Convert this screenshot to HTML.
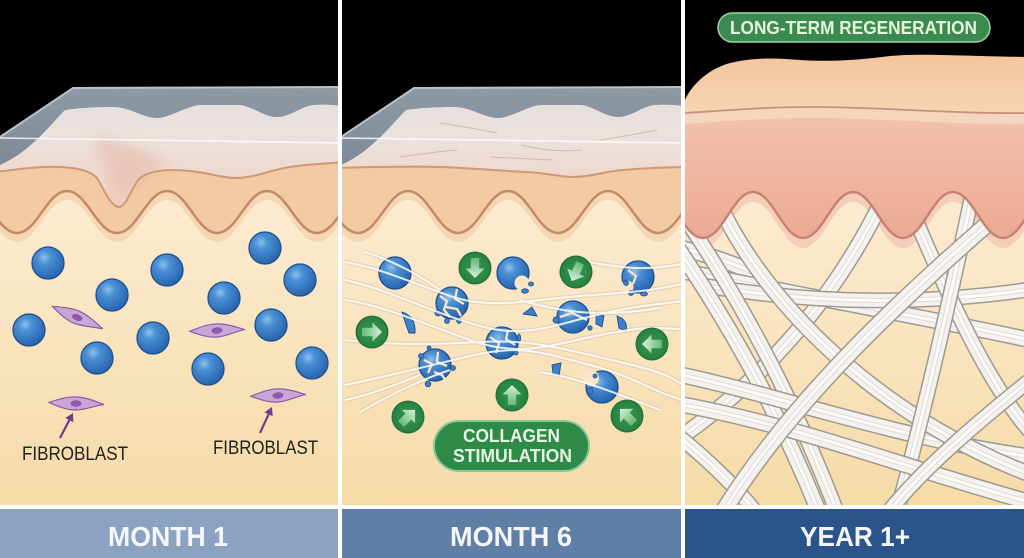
<!DOCTYPE html>
<html><head><meta charset="utf-8">
<style>
html,body{margin:0;padding:0;background:#fff;}
svg{display:block;}
text{font-family:"Liberation Sans", Arial, sans-serif;}
</style></head>
<body>
<svg width="1024" height="558" viewBox="0 0 1024 558" xmlns="http://www.w3.org/2000/svg" xmlns:xlink="http://www.w3.org/1999/xlink">
<defs>
<linearGradient id="cream" x1="0" y1="180" x2="0" y2="505" gradientUnits="userSpaceOnUse">
 <stop offset="0" stop-color="#fcecd4"/>
 <stop offset="1" stop-color="#f6dba7"/>
</linearGradient>
<linearGradient id="pinkL" x1="0" y1="90" x2="0" y2="208" gradientUnits="userSpaceOnUse">
 <stop offset="0" stop-color="#e4e0de"/>
 <stop offset="0.45" stop-color="#ece2dd"/>
 <stop offset="1" stop-color="#efcdbb"/>
</linearGradient>
<linearGradient id="gray" x1="0" y1="86" x2="0" y2="170" gradientUnits="userSpaceOnUse">
 <stop offset="0" stop-color="#8e9aa6"/>
 <stop offset="1" stop-color="#7d8995"/>
</linearGradient>
<radialGradient id="sph" cx="0.38" cy="0.33" r="0.72">
 <stop offset="0" stop-color="#8cc0ec"/>
 <stop offset="0.3" stop-color="#4a8fd4"/>
 <stop offset="1" stop-color="#2461ab"/>
</radialGradient>
<radialGradient id="grn" cx="0.5" cy="0.5" r="0.5">
 <stop offset="0" stop-color="#35964f"/>
 <stop offset="0.85" stop-color="#2a8443"/>
 <stop offset="1" stop-color="#1f6e36"/>
</radialGradient>
<linearGradient id="arw" x1="0" y1="-10" x2="0" y2="11" gradientUnits="userSpaceOnUse">
 <stop offset="0" stop-color="#d8f3d8"/>
 <stop offset="1" stop-color="#5fb372"/>
</linearGradient>
<linearGradient id="peach3" x1="0" y1="55" x2="0" y2="113" gradientUnits="userSpaceOnUse">
 <stop offset="0" stop-color="#f3c59d"/>
 <stop offset="1" stop-color="#f7d5b3"/>
</linearGradient>
<linearGradient id="pink3" x1="0" y1="118" x2="0" y2="240" gradientUnits="userSpaceOnUse">
 <stop offset="0" stop-color="#f2c1ac"/>
 <stop offset="1" stop-color="#eba994"/>
</linearGradient>
<filter id="blur6"><feGaussianBlur stdDeviation="6"/></filter>
<clipPath id="c1"><rect x="0" y="0" width="338" height="505"/></clipPath>
<clipPath id="c2"><rect x="342" y="0" width="339" height="505"/></clipPath>
<clipPath id="c3"><rect x="685" y="0" width="339" height="505"/></clipPath>

<path id="wave" d="M -33 191 C -13 191 -3 233 17 233 S 47 191 67 191 S 97 233 117 233 S 147 191 167 191 S 197 233 217 233 S 247 191 267 191 S 297 233 317 233 S 347 191 367 191"/>
<path id="waveC" d="M -33 191 C -13 191 -3 233 17 233 S 47 191 67 191 S 97 233 117 233 S 147 191 167 191 S 197 233 217 233 S 247 191 267 191 S 297 233 317 233 S 347 191 367 191 L 367 150 L -33 150 Z"/>
<path id="slab" d="M -5 137 L 0 137 L 73 88 L 350 87 L 350 107 C 335 105, 325 104, 313 105 C 300 107, 290 117, 277 117 C 264 117, 252 106, 240 105 L 200 105 C 186 106, 170 118, 157 118 C 143 118, 130 107, 113 107 C 95 107, 78 108, 65 110 C 50 125, 30 152, 0 165 L -5 165 Z"/>

<path id="wave3" d="M 653 192 C 673 192 683 238 703 238 S 733 192 753 192 S 783 238 803 238 S 833 192 853 192 S 883 238 903 238 S 933 192 953 192 S 983 238 1003 238 S 1033 192 1053 192"/>
<path id="wave3C" d="M 653 192 C 673 192 683 238 703 238 S 733 192 753 192 S 783 238 803 238 S 833 192 853 192 S 883 238 903 238 S 933 192 953 192 S 983 238 1003 238 S 1033 192 1053 192 L 1053 118 L 653 118 Z"/>

<g id="ball"><circle r="16" fill="url(#sph)" stroke="#1d4f8e" stroke-width="1.3"/></g>
<g id="fib"><path d="M -27 -2 C -15 -6, -6 -8, 2 -7 C 12 -6, 20 -2, 28 1 C 18 2, 10 6, 0 6 C -10 6, -18 2, -27 -2 Z" fill="#cba4d8" stroke="#8b5ca6" stroke-width="1.2"/><ellipse cx="0" cy="-0.5" rx="5.5" ry="3.2" fill="#8e5aa8"/></g>
<g id="gc"><circle r="16.5" fill="url(#grn)"/><path d="M0 -10 L9.5 -0.5 L4.2 -0.5 L4.2 10 L-4.2 10 L-4.2 -0.5 L-9.5 -0.5 Z" fill="url(#arw)"/></g>

<g id="strands">
 <path d="M 345 262 C 380 268, 410 282, 450 296 S 530 300, 580 296 S 650 292, 690 282"/>
 <path d="M 345 280 C 390 290, 430 312, 480 326 S 560 322, 610 312 S 660 305, 690 300"/>
 <path d="M 345 300 C 380 305, 420 322, 470 340 S 550 345, 600 335 S 660 328, 690 330"/>
 <path d="M 345 340 C 390 345, 430 345, 480 342 S 560 348, 620 362 S 670 380, 690 388"/>
 <path d="M 345 385 C 380 378, 420 368, 470 356 S 540 352, 590 365 S 650 392, 690 402"/>
 <path d="M 360 412 C 390 395, 420 380, 450 370"/>
 <path d="M 345 400 C 370 395, 395 385, 420 375"/>
 <path d="M 365 252 C 390 260, 415 272, 440 290"/>
 <path d="M 590 262 C 620 268, 650 272, 690 262"/>
 <path d="M 520 300 C 560 312, 600 318, 660 308"/>
 <path d="M 540 372 C 580 378, 620 395, 660 410"/>
</g>

<path id="f1" d="M 655 215 C 715 300, 775 400, 822 520"/>
<path id="f1b" d="M 676 205 C 735 290, 793 395, 840 520"/>
<path id="f2" d="M 715 195 C 760 300, 880 420, 1040 478"/>
<path id="f3" d="M 668 268 C 780 292, 900 312, 1040 342"/>
<path id="f4" d="M 700 285 C 820 305, 930 305, 1040 288"/>
<path id="f5" d="M 1015 200 C 905 295, 790 400, 718 520"/>
<path id="f6" d="M 885 195 C 835 300, 760 385, 665 448"/>
<path id="f7" d="M 668 372 C 780 395, 900 440, 1040 458"/>
<path id="f8" d="M 668 402 C 800 425, 910 470, 1040 505"/>
<path id="f9" d="M 972 195 C 950 300, 922 420, 895 520"/>
<path id="f10" d="M 905 195 C 950 300, 992 395, 1040 442"/>
<path id="f11" d="M 1040 372 C 980 420, 920 470, 882 520"/>
<path id="f12" d="M 668 428 C 700 452, 738 488, 762 520"/>
<path id="f13" d="M 668 245 C 700 252, 730 262, 760 275"/>
</defs>

<rect x="0" y="0" width="1024" height="558" fill="#ffffff"/>

<!-- ================= PANEL 1 ================= -->
<g clip-path="url(#c1)">
 <rect x="0" y="0" width="338" height="505" fill="#000"/>
 <rect x="0" y="150" width="338" height="355" fill="url(#cream)"/>
 <use xlink:href="#waveC" transform="translate(0 9)" fill="#f5d7b3"/>
 <use xlink:href="#waveC" fill="#f2caa3"/>
 <use xlink:href="#wave" fill="none" stroke="#c58a65" stroke-width="2.5"/>
 <path d="M 0 137 L 73 88 L 350 87 L 350 162 C 330 163, 310 164, 290 167 C 270 170, 255 178, 235 178 C 222 178, 210 173, 190 171 C 170 169, 150 170, 140 178 C 132 185, 127 208, 118 207 C 110 205, 103 188, 97 178 C 90 171, 80 168, 60 167 C 40 166, 20 169, -5 172 L -5 137 Z" fill="url(#pinkL)"/>
 <path d="M 92 135 C 120 140, 150 150, 170 165 C 150 172, 135 185, 120 200 C 110 180, 100 160, 92 135 Z" fill="#e4b8a6" opacity="0.55" filter="url(#blur6)"/>
 <path d="M -5 172 C 20 169, 40 166, 60 167 C 80 168, 90 171, 97 178 C 103 188, 110 205, 118 207 C 127 208, 132 185, 140 178 C 150 170, 170 169, 190 171 C 210 173, 222 178, 235 178 C 255 178, 270 170, 290 167 C 310 164, 330 163, 350 162" fill="none" stroke="#cf9876" stroke-width="2"/>
 <use xlink:href="#slab" fill="url(#gray)"/>
 <path d="M 0 137 L 73 88 L 350 87" fill="none" stroke="#b9c3cc" stroke-width="2"/>
 <path d="M 0 138 L 345 143" stroke="#ffffff" stroke-width="1.6" opacity="0.8"/>

 <use xlink:href="#ball" x="48" y="263"/>
 <use xlink:href="#ball" x="112" y="295"/>
 <use xlink:href="#ball" x="167" y="270"/>
 <use xlink:href="#ball" x="265" y="248"/>
 <use xlink:href="#ball" x="300" y="280"/>
 <use xlink:href="#ball" x="224" y="298"/>
 <use xlink:href="#ball" x="29" y="330"/>
 <use xlink:href="#ball" x="153" y="338"/>
 <use xlink:href="#ball" x="271" y="325"/>
 <use xlink:href="#ball" x="97" y="358"/>
 <use xlink:href="#ball" x="208" y="369"/>
 <use xlink:href="#ball" x="312" y="363"/>

 <use xlink:href="#fib" transform="translate(77 318) rotate(21)"/>
 <use xlink:href="#fib" transform="translate(217 331) rotate(-5)"/>
 <use xlink:href="#fib" transform="translate(76 404) rotate(-1)"/>
 <use xlink:href="#fib" transform="translate(278 396) rotate(-5)"/>

 <line x1="60" y1="438" x2="69.3" y2="420.1" stroke="#6e3d8f" stroke-width="2.2"/>
 <polygon points="73,413 73.3,422.2 65.3,418" fill="#6e3d8f"/>
 <line x1="260" y1="433" x2="268.6" y2="414.3" stroke="#6e3d8f" stroke-width="2.2"/>
 <polygon points="272,407 272.7,416.2 264.5,412.4" fill="#6e3d8f"/>

 <text x="22" y="460" font-size="19" fill="#222" textLength="106" lengthAdjust="spacingAndGlyphs">FIBROBLAST</text>
 <text x="213" y="454" font-size="19" fill="#222" textLength="105" lengthAdjust="spacingAndGlyphs">FIBROBLAST</text>
</g>

<!-- ================= PANEL 2 ================= -->
<g clip-path="url(#c2)">
 <rect x="342" y="0" width="339" height="505" fill="#000"/>
 <rect x="342" y="150" width="339" height="355" fill="url(#cream)"/>
 <g transform="translate(341 0)">
  <use xlink:href="#waveC" transform="translate(0 9)" fill="#f5d7b3"/>
  <use xlink:href="#waveC" fill="#f2caa3"/>
  <use xlink:href="#wave" fill="none" stroke="#c58a65" stroke-width="2.5"/>
  <path d="M 0 137 L 73 88 L 350 87 L 350 167 C 325 167, 305 168, 282 170 C 265 171, 250 177, 232 177 C 220 177, 205 173, 186 172 C 160 171, 130 168, 99 167 C 70 166, 30 167, -5 168 L -5 137 Z" fill="url(#pinkL)"/>
  <g fill="none" stroke="#cfa898" stroke-width="1" opacity="0.7">
   <path d="M 99 123 C 120 126, 140 130, 156 133"/>
   <path d="M 149 157 C 170 158, 195 159, 212 160"/>
   <path d="M 259 140 C 280 137, 300 133, 316 130"/>
   <path d="M 59 157 C 80 154, 100 151, 116 150"/>
   <path d="M 180 145 C 200 150, 220 152, 240 150"/>
  </g>
  <path d="M -5 168 C 30 167, 70 166, 99 167 C 130 168, 160 171, 186 172 C 205 173, 220 177, 232 177 C 250 177, 265 171, 282 170 C 305 168, 325 167, 350 167" fill="none" stroke="#cf9876" stroke-width="2"/>
  <use xlink:href="#slab" fill="url(#gray)"/>
  <path d="M 0 137 L 73 88 L 350 87" fill="none" stroke="#b9c3cc" stroke-width="2"/>
  <path d="M 0 138 L 345 143" stroke="#ffffff" stroke-width="1.6" opacity="0.8"/>
 </g>

 <use xlink:href="#strands" fill="none" stroke="#d6c3a6" stroke-width="4.5" opacity="0.5"/>

 <use xlink:href="#ball" x="395" y="273"/>
 <use xlink:href="#ball" x="513" y="273"/>
 <circle cx="522" cy="283" r="7.5" fill="#fae6c6"/>
 <ellipse cx="525" cy="291" rx="3.5" ry="2.2" fill="#3c80c9" stroke="#1d4f8e" stroke-width="0.8"/>
 <ellipse cx="531" cy="284" rx="2.5" ry="2" fill="#3c80c9" stroke="#1d4f8e" stroke-width="0.8"/>

 <use xlink:href="#ball" x="452" y="303"/>
 <g fill="none" stroke="#fae6c6" stroke-width="2.3" stroke-linejoin="round">
  <path d="M 440 296 L 447 301 L 444 310 L 450 317"/>
  <path d="M 457 289 L 455 299 L 464 304"/>
  <path d="M 446 307 L 457 309 L 461 316"/>
 </g>
 <circle cx="438" cy="313" r="3" fill="#3c80c9" stroke="#1d4f8e" stroke-width="0.8"/>
 <circle cx="447" cy="321" r="2.5" fill="#3c80c9" stroke="#1d4f8e" stroke-width="0.8"/>
 <circle cx="459" cy="321" r="2.3" fill="#3c80c9" stroke="#1d4f8e" stroke-width="0.8"/>

 <use xlink:href="#ball" x="638" y="277"/>
 <circle cx="627" cy="287" r="6.5" fill="#fae6c6"/>
 <path d="M 628 270 L 636 276 L 633 284" fill="none" stroke="#fae6c6" stroke-width="2.2"/>
 <circle cx="626" cy="283" r="2.5" fill="#3c80c9" stroke="#1d4f8e" stroke-width="0.8"/>
 <circle cx="631" cy="293" r="2.5" fill="#3c80c9" stroke="#1d4f8e" stroke-width="0.8"/>
 <ellipse cx="644" cy="294" rx="3.5" ry="2" fill="#3c80c9" stroke="#1d4f8e" stroke-width="0.8"/>

 <use xlink:href="#ball" x="573" y="317"/>
 <path d="M 560 317 L 572 313 L 587 320" fill="none" stroke="#fae6c6" stroke-width="2.3"/>
 <circle cx="556" cy="320" r="3" fill="#3c80c9" stroke="#1d4f8e" stroke-width="0.8"/>
 <circle cx="590" cy="328" r="2.2" fill="#3c80c9" stroke="#1d4f8e" stroke-width="0.8"/>
 <path d="M 596 312 L 604 316 L 602 327 L 596 324 Z" fill="#3c80c9" stroke="#1d4f8e" stroke-width="0.8"/>

 <use xlink:href="#ball" x="502" y="343"/>
 <g fill="none" stroke="#fae6c6" stroke-width="2.2" stroke-linejoin="round">
  <path d="M 490 337 L 499 343 L 496 353"/>
  <path d="M 508 330 L 506 339 L 515 345"/>
 </g>
 <circle cx="516" cy="353" r="2" fill="#3c80c9" stroke="#1d4f8e" stroke-width="0.8"/>
 <ellipse cx="519" cy="338" rx="1.6" ry="4" fill="#3c80c9" stroke="#1d4f8e" stroke-width="0.8"/>

 <use xlink:href="#ball" x="435" y="365"/>
 <g fill="none" stroke="#fae6c6" stroke-width="2.3" stroke-linejoin="round">
  <path d="M 424 360 L 432 364 L 428 373"/>
  <path d="M 438 352 L 437 362 L 447 366"/>
  <path d="M 434 372 L 442 375 L 446 381"/>
 </g>
 <circle cx="421" cy="356" r="2.5" fill="#3c80c9" stroke="#1d4f8e" stroke-width="0.8"/>
 <circle cx="429" cy="348" r="2" fill="#3c80c9" stroke="#1d4f8e" stroke-width="0.8"/>
 <circle cx="453" cy="368" r="2.5" fill="#3c80c9" stroke="#1d4f8e" stroke-width="0.8"/>
 <circle cx="428" cy="384" r="2.8" fill="#3c80c9" stroke="#1d4f8e" stroke-width="0.8"/>

 <use xlink:href="#ball" x="602" y="387"/>
 <circle cx="591" cy="378" r="8" fill="#fae6c6"/>
 <circle cx="590" cy="391" r="3" fill="#3c80c9" stroke="#1d4f8e" stroke-width="0.8"/>
 <circle cx="595" cy="376" r="2" fill="#3c80c9" stroke="#1d4f8e" stroke-width="0.8"/>

 <path d="M 402 312 C 410 314, 416 321, 415 333 L 409 333 C 406 325, 404 319, 402 312 Z" fill="#3c80c9" stroke="#1d4f8e" stroke-width="0.9"/>
 <path d="M 523 314 L 532 307 L 537 316 Z" fill="#3c80c9" stroke="#1d4f8e" stroke-width="0.9"/>
 <path d="M 552 365 L 561 363 L 559 376 L 553 374 Z" fill="#3c80c9" stroke="#1d4f8e" stroke-width="0.9"/>
 <path d="M 617 316 C 624 318, 628 324, 626 331 L 619 328 Z" fill="#3c80c9" stroke="#1d4f8e" stroke-width="0.9"/>

 <use xlink:href="#strands" fill="none" stroke="#ffffff" stroke-width="2" opacity="0.85"/>

 <use xlink:href="#gc" transform="translate(475 268) rotate(180)"/>
 <use xlink:href="#gc" transform="translate(576 272) rotate(205)"/>
 <use xlink:href="#gc" transform="translate(372 332) rotate(90)"/>
 <use xlink:href="#gc" transform="translate(652 344) rotate(270)"/>
 <use xlink:href="#gc" transform="translate(512 395)"/>
 <use xlink:href="#gc" transform="translate(408 417) rotate(45)"/>
 <use xlink:href="#gc" transform="translate(627 416) rotate(-45)"/>

 <rect x="434" y="421" width="155" height="50" rx="25" fill="#2e8a47" stroke="#8cc79a" stroke-width="2"/>
 <text x="463" y="442" font-size="18" font-weight="bold" fill="#e9f6e4" textLength="97" lengthAdjust="spacingAndGlyphs">COLLAGEN</text>
 <text x="453" y="462" font-size="18" font-weight="bold" fill="#e9f6e4" textLength="119" lengthAdjust="spacingAndGlyphs">STIMULATION</text>
</g>

<!-- ================= PANEL 3 ================= -->
<g clip-path="url(#c3)">
 <rect x="685" y="0" width="339" height="505" fill="#000"/>
 <rect x="685" y="150" width="339" height="355" fill="url(#cream)"/>
 <use xlink:href="#wave3C" transform="translate(0 10)" fill="#f5cdbd"/>

 <g fill="none" stroke-linecap="butt">
  <use xlink:href="#f13" stroke="#9f998f" stroke-width="17"/><use xlink:href="#f13" stroke="#f4f2ee" stroke-width="14"/><use xlink:href="#f13" stroke="#e0dbd4" stroke-width="5"/><use xlink:href="#f13" stroke="#fdfcfa" stroke-width="3"/>
  <use xlink:href="#f3" stroke="#9f998f" stroke-width="17"/><use xlink:href="#f3" stroke="#f4f2ee" stroke-width="14"/><use xlink:href="#f3" stroke="#e0dbd4" stroke-width="5"/><use xlink:href="#f3" stroke="#fdfcfa" stroke-width="3"/>
  <use xlink:href="#f6" stroke="#9f998f" stroke-width="17"/><use xlink:href="#f6" stroke="#f4f2ee" stroke-width="14"/><use xlink:href="#f6" stroke="#e0dbd4" stroke-width="5"/><use xlink:href="#f6" stroke="#fdfcfa" stroke-width="3"/>
  <use xlink:href="#f4" stroke="#9f998f" stroke-width="16"/><use xlink:href="#f4" stroke="#f4f2ee" stroke-width="13"/><use xlink:href="#f4" stroke="#e0dbd4" stroke-width="5"/><use xlink:href="#f4" stroke="#fdfcfa" stroke-width="3"/>
  <use xlink:href="#f1" stroke="#9f998f" stroke-width="17"/><use xlink:href="#f1" stroke="#f4f2ee" stroke-width="14"/><use xlink:href="#f1" stroke="#e0dbd4" stroke-width="5"/><use xlink:href="#f1" stroke="#fdfcfa" stroke-width="3"/>
  <use xlink:href="#f1b" stroke="#9f998f" stroke-width="16"/><use xlink:href="#f1b" stroke="#f4f2ee" stroke-width="13"/><use xlink:href="#f1b" stroke="#e0dbd4" stroke-width="5"/><use xlink:href="#f1b" stroke="#fdfcfa" stroke-width="3"/>
  <use xlink:href="#f7" stroke="#9f998f" stroke-width="17"/><use xlink:href="#f7" stroke="#f4f2ee" stroke-width="14"/><use xlink:href="#f7" stroke="#e0dbd4" stroke-width="5"/><use xlink:href="#f7" stroke="#fdfcfa" stroke-width="3"/>
  <use xlink:href="#f10" stroke="#9f998f" stroke-width="16"/><use xlink:href="#f10" stroke="#f4f2ee" stroke-width="13"/><use xlink:href="#f10" stroke="#e0dbd4" stroke-width="5"/><use xlink:href="#f10" stroke="#fdfcfa" stroke-width="3"/>
  <use xlink:href="#f2" stroke="#9f998f" stroke-width="17"/><use xlink:href="#f2" stroke="#f4f2ee" stroke-width="14"/><use xlink:href="#f2" stroke="#e0dbd4" stroke-width="5"/><use xlink:href="#f2" stroke="#fdfcfa" stroke-width="3"/>
  <use xlink:href="#f9" stroke="#9f998f" stroke-width="16"/><use xlink:href="#f9" stroke="#f4f2ee" stroke-width="13"/><use xlink:href="#f9" stroke="#e0dbd4" stroke-width="5"/><use xlink:href="#f9" stroke="#fdfcfa" stroke-width="3"/>
  <use xlink:href="#f8" stroke="#9f998f" stroke-width="17"/><use xlink:href="#f8" stroke="#f4f2ee" stroke-width="14"/><use xlink:href="#f8" stroke="#e0dbd4" stroke-width="5"/><use xlink:href="#f8" stroke="#fdfcfa" stroke-width="3"/>
  <use xlink:href="#f12" stroke="#9f998f" stroke-width="16"/><use xlink:href="#f12" stroke="#f4f2ee" stroke-width="13"/><use xlink:href="#f12" stroke="#e0dbd4" stroke-width="5"/><use xlink:href="#f12" stroke="#fdfcfa" stroke-width="3"/>
  <use xlink:href="#f5" stroke="#9f998f" stroke-width="18"/><use xlink:href="#f5" stroke="#f4f2ee" stroke-width="15"/><use xlink:href="#f5" stroke="#e0dbd4" stroke-width="5"/><use xlink:href="#f5" stroke="#fdfcfa" stroke-width="3"/>
  <use xlink:href="#f11" stroke="#9f998f" stroke-width="16"/><use xlink:href="#f11" stroke="#f4f2ee" stroke-width="13"/><use xlink:href="#f11" stroke="#e0dbd4" stroke-width="5"/><use xlink:href="#f11" stroke="#fdfcfa" stroke-width="3"/>
 </g>

 <use xlink:href="#wave3C" fill="url(#pink3)"/>
 <use xlink:href="#wave3" fill="none" stroke="#c6826f" stroke-width="2.5"/>
 <path d="M 685 113 C 720 111, 760 107, 813 107 C 880 107, 950 114, 1030 113 L 1030 124 C 950 125, 880 118, 813 118 C 760 118, 720 122, 685 124 Z" fill="#f6d5c0"/>
 <path d="M 685 113 L 685 100 C 690 88, 705 70, 730 63 C 755 57, 780 58, 800 60 C 830 62, 860 60, 890 56 C 920 53, 960 56, 1030 57 L 1030 113 C 950 114, 880 107, 813 107 C 760 107, 720 111, 685 113 Z" fill="url(#peach3)"/>
 <path d="M 685 113 C 720 111, 760 107, 813 107 C 880 107, 950 114, 1030 113" fill="none" stroke="#c89079" stroke-width="1.8"/>

 <rect x="718" y="13" width="272" height="29" rx="14.5" fill="#3b8a50" stroke="#a3d4a8" stroke-width="1.5"/>
 <text x="730" y="34" font-size="18" font-weight="bold" fill="#e6f6dc" textLength="247" lengthAdjust="spacingAndGlyphs">LONG-TERM REGENERATION</text>
</g>

<!-- ================= BOTTOM BARS ================= -->
<rect x="0" y="509" width="338" height="49" fill="#8ba3c1"/>
<rect x="342" y="509" width="339" height="49" fill="#5f7fa6"/>
<rect x="685" y="509" width="339" height="49" fill="#2b558a"/>
<text x="108" y="546" font-size="28" font-weight="bold" fill="#f4f6fa" textLength="120" lengthAdjust="spacingAndGlyphs">MONTH 1</text>
<text x="450" y="546" font-size="28" font-weight="bold" fill="#f4f6fa" textLength="122" lengthAdjust="spacingAndGlyphs">MONTH 6</text>
<text x="800" y="546" font-size="28" font-weight="bold" fill="#f4f6fa" textLength="110" lengthAdjust="spacingAndGlyphs">YEAR 1+</text>
</svg>
</body></html>
